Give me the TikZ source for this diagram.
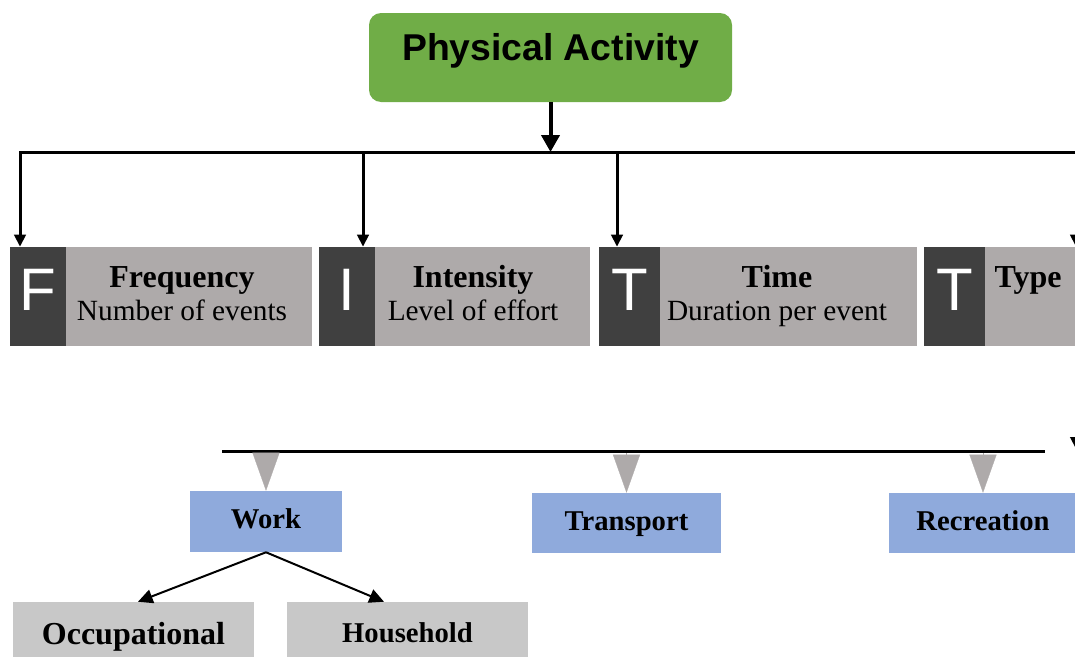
\documentclass[tikz,border=0pt]{standalone}
\usepackage{fontspec}
\setmainfont{Liberation Serif}
\setsansfont{Liberation Sans}
\usetikzlibrary{arrows.meta,positioning,calc}
\definecolor{pagreen}{RGB}{112,173,71}
\definecolor{letgray}{RGB}{64,64,64}
\definecolor{boxgray}{RGB}{174,170,170}
\definecolor{catblue}{RGB}{143,170,220}
\definecolor{subgray}{RGB}{200,200,200}
\tikzstyle{letterbox} = [rectangle, fill=letgray, text=white, inner sep=0, minimum height=74.25pt, text height=47.25pt, text depth=27pt, font=\sffamily\fontsize{45}{54}\selectfont]
\tikzstyle{dimbox} = [rectangle, fill=boxgray, inner sep=0, minimum height=74.25pt]
\tikzstyle{headtext} = [anchor=base, inner sep=0, font=\bfseries\fontsize{24}{28}\selectfont]
\tikzstyle{subtext} = [anchor=base, inner sep=0, font=\fontsize{22}{26}\selectfont]
\tikzstyle{catbox} = [rectangle, fill=catblue, inner sep=0, font=\bfseries\fontsize{21.5}{26}\selectfont]
\tikzstyle{kindbox} = [rectangle, fill=subgray, inner sep=0, minimum width=180.75pt]
\tikzstyle{dropline} = [line width=2.25pt, -{Triangle[length=9pt,width=8.5pt]}]
\tikzstyle{wedge} = [boxgray, line width=0.2pt, -{Triangle[length=28.5pt,width=20.25pt]}]
\tikzstyle{branch} = [line width=1.5pt, -{Triangle[length=11pt,width=10.5pt]}]

\begin{document}
\begin{tikzpicture}[x=0.75pt,y=-0.75pt]
    \useasboundingbox (0,0) rectangle (1075,657);
    \clip (0,0) rectangle (1075,657);
    % Top box
    \node[rectangle, rounded corners=9pt, fill=pagreen, inner sep=0, minimum width=272.25pt, text height=35.25pt, text depth=31.5pt, font=\sffamily\bfseries\fontsize{28}{34}\selectfont] (pa) at (550.5,57.5) {Physical Activity};
    % FITT boxes
    \node[letterbox, minimum width=42pt] (freqL) at (38,296.5) {F};
    \node[dimbox, minimum width=184.5pt, right=-0.75pt of freqL] (freq) {};
    \node[letterbox, minimum width=42pt] (intL) at (347,296.5) {I};
    \node[dimbox, minimum width=161.25pt, right=-0.75pt of intL] (int) {};
    \node[letterbox, minimum width=45.75pt] (timeL) at (629.5,296.5) {T};
    \node[dimbox, minimum width=192.75pt, right=-0.75pt of timeL] (time) {};
    \node[letterbox, minimum width=45.75pt] (typeL) at (954.5,296.5) {T};
    \node[dimbox, minimum width=75pt, right=-0.75pt of typeL] (type) {};
    \node[headtext] (freqH) at (182,287) {Frequency};
    \node[subtext] (freqS) at (182,320) {Number of events};
    \node[headtext] (intH) at (473,287) {Intensity};
    \node[subtext] (intS) at (473,320) {Level of effort};
    \node[headtext] (timeH) at (777,287) {Time};
    \node[subtext] (timeS) at (777,320) {Duration per event};
    \node[headtext] (typeH) at (1028,287) {Type};
    % Top connectors
    \coordinate (barL) at (20,152);
    \coordinate (barR) at (1080,152);
    \draw[line width=3pt, -{Triangle[length=12.75pt,width=13.5pt]}] (pa.south) -- (pa.south |- barL);
    \draw[dropline] (barR) -- (barL) -- (barL |- freqL.north);
    \foreach \x/\n in {363/intL, 617/timeL, 1076/typeL}
        \draw[dropline] (\x,0 |- barL) -- (\x,0 |- \n.north);
    % Type categories
    \node[catbox, minimum width=114pt, text height=27.75pt, text depth=18pt] (work) at (266,521.5) {Work};
    \node[catbox, minimum width=141.75pt, text height=27.75pt, text depth=17.25pt] (trans) at (626.5,523) {Transport};
    \node[catbox, minimum width=141pt, text height=27.75pt, text depth=17.25pt] (recr) at (983,523) {Recreation};
    \coordinate (bar2L) at (222,451);
    \coordinate (bar2R) at (1045,451);
    \coordinate (typeEnd) at (1076,449);
    \draw[line width=2.25pt] (bar2L) -- (bar2R);
    \foreach \n in {work, trans, recr}
        \draw[wedge] ([yshift=-1.5pt]\n.north |- bar2L) -- (\n.north);
    \draw[dropline] (typeEnd |- type.south) -- (typeEnd);
    % Work kinds
    \node[kindbox, text height=31.5pt, text depth=9.75pt, font=\bfseries\fontsize{24}{28}\selectfont] (occ) at (133.5,629.5) {Occupational};
    \node[kindbox, text height=30pt, text depth=11.25pt, font=\bfseries\fontsize{21.5}{26}\selectfont] (house) at (407.5,629.5) {Household};
    \draw[branch] (work.south) -- ($(occ.north)+(4.5,0)$);
    \draw[branch] (work.south) -- ($(house.north)+(-23.5,0)$);
\end{tikzpicture}
\end{document}
